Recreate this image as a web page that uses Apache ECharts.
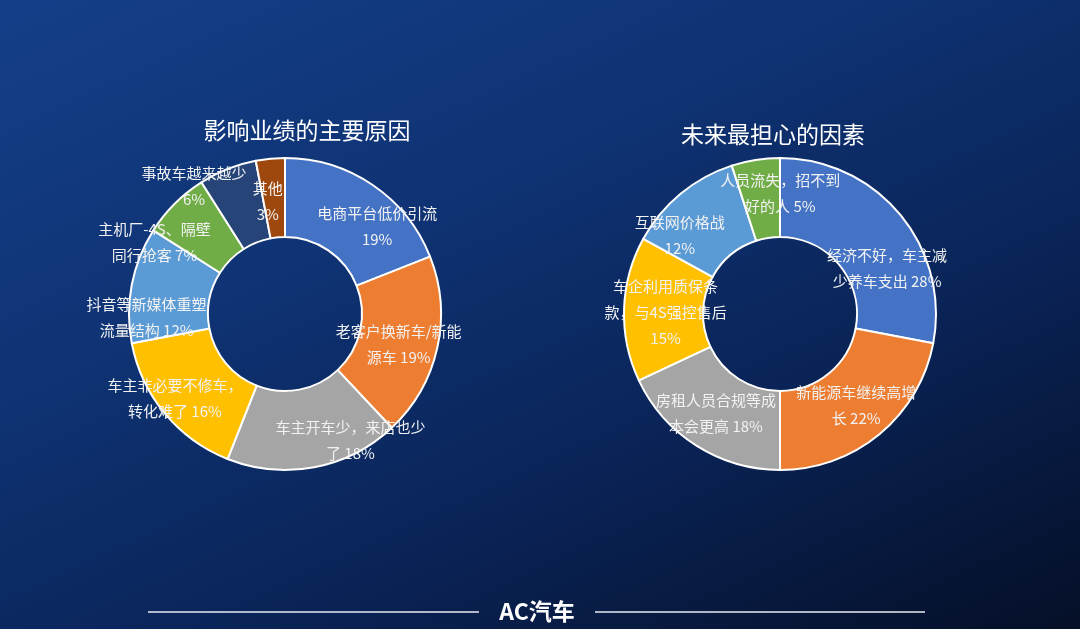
<!DOCTYPE html>
<html>
<head>
<meta charset="utf-8">
<script src="https://cdn.jsdelivr.net/npm/echarts@6/dist/echarts.min.js"></script>
<style>
html,body{margin:0;padding:0;width:1080px;height:629px;overflow:hidden;}
body{background:linear-gradient(155deg,#143f88 0%,#0f3374 35%,#0a2458 65%,#050f27 100%);}
#chart{width:1080px;height:629px;}
</style>
</head>
<body>
<div id="chart"></div>
<script>
// ---- data ----
const leftTitle = '影响业绩的主要原因';
const leftCategories = [
  '电商平台低价引流\n19%',
  '老客户换新车/新能\n源车 19%',
  '车主开车少，来店也少\n了 18%',
  '车主非必要不修车，\n转化难了 16%',
  '抖音等新媒体重塑\n流量结构 12%',
  '主机厂-4S、隔壁\n同行抢客 7%',
  '事故车越来越少\n6%',
  '其他\n3%'
];
const leftValues = [19, 19, 18, 16, 12, 7, 6, 3];

const rightTitle = '未来最担心的因素';
const rightCategories = [
  '经济不好，车主减\n少养车支出 28%',
  '新能源车继续高增\n长 22%',
  '房租人员合规等成\n本会更高 18%',
  '车企利用质保条\n款，与4S强控售后\n15%',
  '互联网价格战\n12%',
  '人员流失，招不到\n好的人 5%'
];
const rightValues = [28, 22, 18, 15, 12, 5];

const footerText = 'AC汽车';

// ---- styles ----
const palette = ['#4472C4', '#ED7D31', '#A5A5A5', '#FFC000', '#5B9BD5', '#70AD47', '#264478', '#9E480E'];
const leftLabelNudge = [[25, 11], [-3, 4], [43, 9], [-18, 8], [-21, 26], [-46, 13], [-47, -17], [-6, 6]];
const rightLabelNudge = [[15, 30], [0, -1], [0, -2], [5, 2], [-24, 13], [19, -3]];

function toData(cats, vals) {
  return cats.map((c, i) => ({ name: c, value: vals[i] }));
}

function pieSeries(cats, vals, center, nudge) {
  return {
    type: 'pie',
    center: center,
    radius: [77, 156],
    startAngle: 90,
    clockwise: true,
    avoidLabelOverlap: false,
    silent: true,
    itemStyle: { borderColor: '#ffffff', borderWidth: 2 },
    label: {
      show: true,
      position: 'inside',
      formatter: '{b}',
      color: '#f2f2f2',
      fontSize: 15,
      lineHeight: 26,
      fontFamily: '"Noto Sans CJK SC", sans-serif',
      textBorderWidth: 0
    },
    labelLine: { show: false },
    labelLayout: function (p) {
      const d = nudge[p.dataIndex] || [0, 0];
      return { dx: d[0], dy: d[1] };
    },
    data: toData(cats, vals)
  };
}

const chart = echarts.init(document.getElementById('chart'), null, { renderer: 'canvas' });
chart.setOption({
  backgroundColor: 'transparent',
  color: palette,
  animation: false,
  title: [
    {
      text: leftTitle, left: 302, top: 114, textAlign: 'center',
      textStyle: { color: '#ffffff', fontSize: 23, fontWeight: 'normal', fontFamily: '"Noto Sans CJK SC", sans-serif' }
    },
    {
      text: rightTitle, left: 768, top: 118, textAlign: 'center',
      textStyle: { color: '#ffffff', fontSize: 23, fontWeight: 'normal', fontFamily: '"Noto Sans CJK SC", sans-serif' }
    }
  ],
  series: [
    pieSeries(leftCategories, leftValues, [285, 314], leftLabelNudge),
    pieSeries(rightCategories, rightValues, [780, 314], rightLabelNudge)
  ],
  graphic: [
    { type: 'line', shape: { x1: 148, y1: 612, x2: 479, y2: 612 }, style: { stroke: '#e8ecf5', lineWidth: 1.5 } },
    { type: 'line', shape: { x1: 595, y1: 612, x2: 925, y2: 612 }, style: { stroke: '#e8ecf5', lineWidth: 1.5 } },
    {
      type: 'text', x: 537, y: 611,
      style: {
        text: footerText, fill: '#ffffff', font: 'bold 23px "Noto Sans CJK SC", sans-serif',
        textAlign: 'center', textVerticalAlign: 'middle'
      }
    }
  ]
});
</script>
</body>
</html>
